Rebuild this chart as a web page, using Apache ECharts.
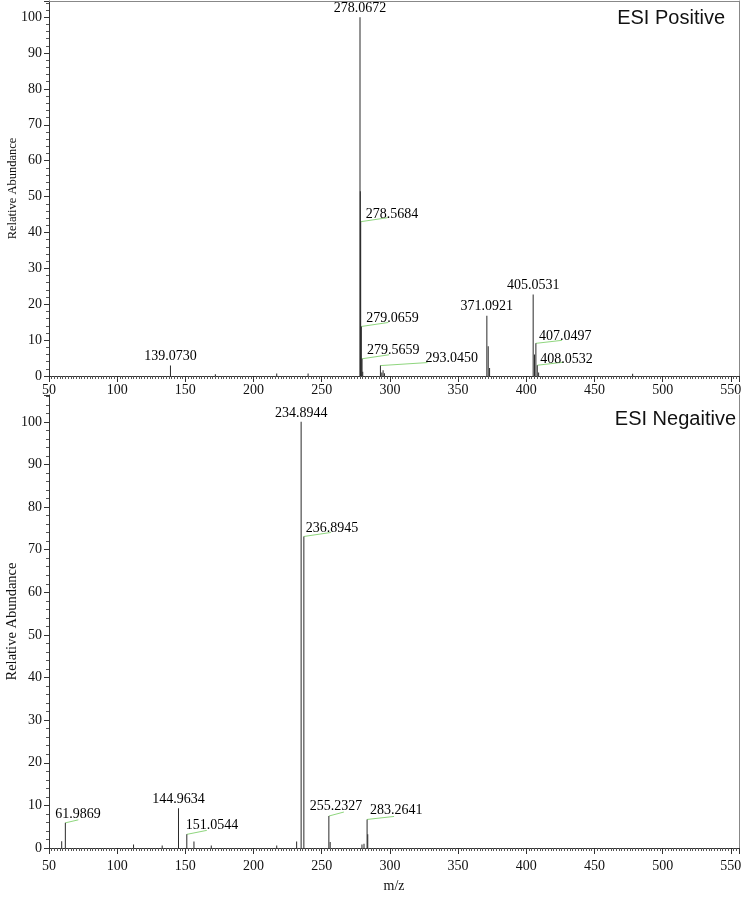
<!DOCTYPE html>
<html>
<head>
<meta charset="utf-8">
<script src="https://cdn.jsdelivr.net/npm/echarts@6/dist/echarts.min.js"></script>
<style>
html,body{margin:0;padding:0;background:#fff;}
#chart{width:754px;height:900px;}
</style>
</head>
<body>
<div id="chart"></div>
<script>
// ---- ESI Positive spectrum (m/z, relative abundance) ----
var posMz  = [139.0730, 172.0, 217.0, 240.0, 278.0672, 278.30, 278.5684, 279.0659, 279.5659, 280.07, 293.0450, 294.05, 295.0, 296.0, 371.0921, 372.09, 373.09, 405.0531, 406.05, 407.0497, 408.0532, 409.05, 478.0];
var posInt = [2.9, 0.5, 0.7, 0.7, 100, 51.5, 43.0, 13.8, 4.8, 1.2, 2.9, 1.0, 1.6, 0.8, 16.8, 8.3, 2.2, 22.7, 6.0, 9.1, 3.0, 1.0, 0.6];
var posLabels = ['139.0730', '278.0672', '278.5684', '279.0659', '279.5659', '293.0450', '371.0921', '405.0531', '407.0497', '408.0532'];

// ---- ESI Negative spectrum ----
var negMz  = [59.3, 61.9869, 112.0, 133.0, 144.9634, 151.0544, 156.3, 169.0, 217.0, 231.6, 234.8944, 236.8945, 255.2327, 256.2, 279.5, 281.0, 283.2641, 283.75];
var negInt = [1.6, 5.9, 0.8, 0.6, 9.3, 3.2, 1.5, 0.6, 0.6, 1.5, 100, 73.1, 7.5, 1.4, 0.8, 1.0, 6.7, 3.2];
var negLabels = ['61.9869', '144.9634', '151.0544', '234.8944', '236.8945', '255.2327', '283.2641'];

// tick values
var xTickInterval = 50;
var yTickInterval = 10;

// ---- label placement (pixel offsets from the peak top) ----
var labelLayout = {
  '278.5684': {lx: 27, ly: -4, tx: 5, ty: -7},
  '279.0659': {lx: 27, ly: -4, tx: 5, ty: -8},
  '279.5659': {lx: 27, ly: -4, tx: 5, ty: -8},
  '293.0450': {lx: 47, ly: -3, tx: 45, ty: -7},
  '407.0497': {lx: 26, ly: -3, tx: 3, ty: -7},
  '408.0532': {lx: 26, ly: -3, tx: 3, ty: -6},
  '61.9869':  {lx: 13, ly: -3, tx: -10, ty: -9},
  '151.0544': {lx: 20, ly: -4, tx: -1, ty: -9},
  '236.8945': {lx: 27, ly: -4, tx: 2, ty: -8},
  '255.2327': {lx: 15, ly: -4, tx: -19, ty: -10},
  '283.2641': {lx: 27, ly: -3, tx: 3, ty: -9}
};

var SERIF = '"Liberation Serif", "DejaVu Serif", serif';
var SANS = '"Liberation Sans", Arial, sans-serif';

function pairs(mz, inten) { return mz.map(function (m, i) { return [m, inten[i]]; }); }
function labelData(labels, mz, inten) {
  return labels.map(function (t) {
    var v = parseFloat(t);
    var idx = 0, best = Infinity;
    mz.forEach(function (m, i) { var d = Math.abs(m - v); if (d < best) { best = d; idx = i; } });
    return [mz[idx], inten[idx]];
  });
}
function makeRender(labels) {
  return function (params, api) {
    var t = labels[params.dataIndex];
    var p = api.coord([api.value(0), api.value(1)]);
    var L = labelLayout[t];
    var kids = [];
    if (L) {
      kids.push({type: 'line', shape: {x1: p[0], y1: p[1], x2: p[0] + L.lx, y2: p[1] + L.ly},
                 style: {stroke: '#8fd67e', lineWidth: 1}});
      kids.push({type: 'text', style: {text: t, x: p[0] + L.tx, y: p[1] + L.ty, align: 'left', verticalAlign: 'middle',
                 fontSize: 14, fontFamily: SERIF, fill: '#000'}});
    } else {
      kids.push({type: 'text', style: {text: t, x: p[0], y: p[1] - 2, align: 'center', verticalAlign: 'bottom',
                 fontSize: 14, fontFamily: SERIF, fill: '#000'}});
    }
    return {type: 'group', children: kids};
  };
}

function mainX(grid, margin, extra) {
  var o = {
    gridIndex: grid, type: 'value', min: 50, max: 556, interval: xTickInterval, position: 'bottom',
    axisLine: {show: true, onZero: false, lineStyle: {color: '#333', width: 1}},
    axisTick: {show: true, length: 6, lineStyle: {color: '#333'}},
    minorTick: {show: true, splitNumber: 25, length: 3, lineStyle: {color: '#555'}},
    splitLine: {show: false}, minorSplitLine: {show: false},
    axisLabel: {fontFamily: SERIF, fontSize: 14, color: '#111', margin: margin, showMaxLabel: false,
      formatter: function (v) { return v % 50 === 0 ? String(v) : ''; }}
  };
  for (var k in extra) o[k] = extra[k];
  return o;
}
function mainY(grid, max, nameSize, gap) {
  return {
    gridIndex: grid, type: 'value', min: 0, max: max, interval: yTickInterval, position: 'left',
    name: 'Relative Abundance', nameLocation: 'middle', nameGap: gap, nameRotate: 90, nameMoveOverlap: false,
    nameTextStyle: {fontFamily: SERIF, fontSize: nameSize, color: '#111'},
    axisLine: {show: true, onZero: false, lineStyle: {color: '#333', width: 1}},
    axisTick: {show: true, length: 5, lineStyle: {color: '#333'}},
    minorTick: {show: true, splitNumber: 5, length: 3, lineStyle: {color: '#555'}},
    splitLine: {show: false}, minorSplitLine: {show: false},
    axisLabel: {fontFamily: SERIF, fontSize: 14, color: '#111', margin: 7, showMaxLabel: false,
      formatter: function (v) { return v % 10 === 0 && v <= 100 ? String(v) : ''; }}
  };
}
function frameY(grid) {
  return {gridIndex: grid, type: 'value', position: 'right', min: 0, max: 1,
    axisLine: {show: true, onZero: false, lineStyle: {color: '#888', width: 1}},
    axisTick: {show: false}, axisLabel: {show: false}, splitLine: {show: false}};
}

var chart = echarts.init(document.getElementById('chart'), null, {renderer: 'canvas'});
chart.setOption({
  animation: false,
  backgroundColor: '#fff',
  title: [
    {text: 'ESI Positive', right: 29, top: 8, padding: 0,
     textStyle: {fontFamily: SANS, fontSize: 20, fontWeight: 'normal', color: '#111'}},
    {text: 'ESI Negaitive', right: 18, top: 409, padding: 0,
     textStyle: {fontFamily: SANS, fontSize: 20, fontWeight: 'normal', color: '#111'}}
  ],
  grid: [
    {left: 49, right: 15, top: 1, height: 375, containLabel: false, outerBoundsMode: 'none'},
    {left: 49, right: 15, top: 395, height: 453, containLabel: false, outerBoundsMode: 'none'}
  ],
  xAxis: [
    mainX(0, 7, {}),
    {gridIndex: 0, type: 'value', position: 'top', min: 50, max: 556,
     axisLine: {show: true, onZero: false, lineStyle: {color: '#888', width: 1}},
     axisTick: {show: false}, axisLabel: {show: false}, splitLine: {show: false}},
    mainX(1, 11, {name: 'm/z', nameLocation: 'middle', nameGap: 31, nameMoveOverlap: false,
              nameTextStyle: {fontFamily: SERIF, fontSize: 14, color: '#111'}})
  ],
  yAxis: [
    mainY(0, 104.5, 12.5, 30),
    frameY(0),
    mainY(1, 106.3, 14.5, 29),
    frameY(1)
  ],
  series: [
    {type: 'bar', xAxisIndex: 0, yAxisIndex: 0, barWidth: 1, silent: true,
     itemStyle: {color: '#2a2a2a'}, data: pairs(posMz, posInt)},
    {type: 'custom', xAxisIndex: 0, yAxisIndex: 0, silent: true, clip: false,
     renderItem: makeRender(posLabels), data: labelData(posLabels, posMz, posInt)},
    {type: 'bar', xAxisIndex: 2, yAxisIndex: 2, barWidth: 1, silent: true,
     itemStyle: {color: '#2a2a2a'}, data: pairs(negMz, negInt)},
    {type: 'custom', xAxisIndex: 2, yAxisIndex: 2, silent: true, clip: false,
     renderItem: makeRender(negLabels), data: labelData(negLabels, negMz, negInt)}
  ]
});
</script>
</body>
</html>
